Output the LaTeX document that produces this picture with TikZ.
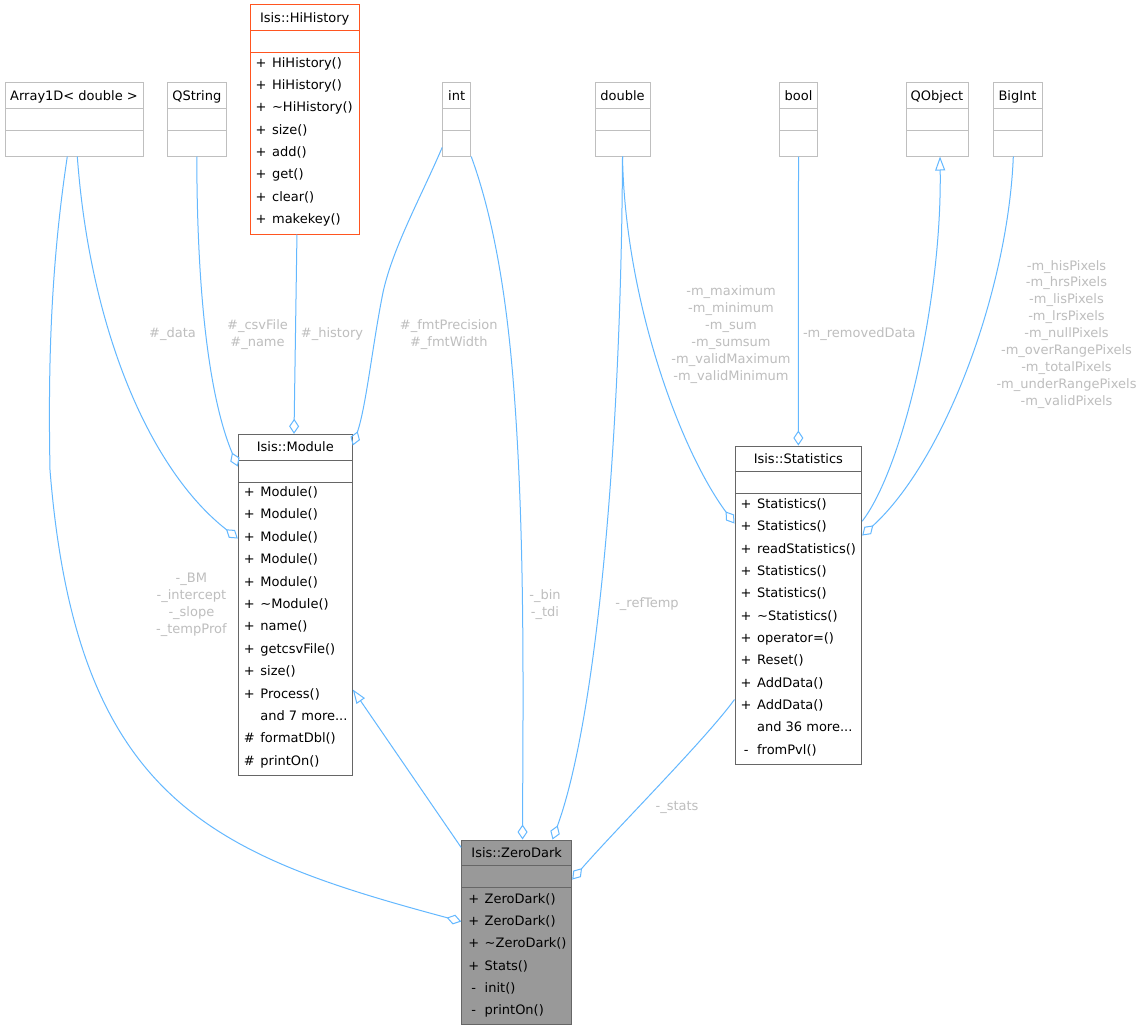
\documentclass[tikz,border=0pt]{standalone}
\usepackage{fontspec}
\setmainfont{DejaVu Sans}
\usetikzlibrary{arrows.meta,fit}
\definecolor{edgeblue}{HTML}{63B8FF}
\definecolor{lblgray}{HTML}{BEBEBE}
\definecolor{extgray}{HTML}{BFBFBF}
\definecolor{clsgray}{HTML}{666666}
\definecolor{curfill}{HTML}{999999}
\definecolor{trunc}{HTML}{FF5520}
\newcommand{\threedots}{...}
\tikzset{
  ext/.style={draw=extgray, line width=1pt, inner sep=0pt, fill=white},
  cls/.style={draw=clsgray, line width=1pt, inner sep=0pt, fill=white},
  cur/.style={draw=clsgray, line width=1pt, inner sep=0pt, fill=curfill},
  hist/.style={draw=trunc, line width=1pt, inner sep=0pt, fill=white},
  extsep/.style={draw=extgray, line width=1pt},
  clssep/.style={draw=clsgray, line width=1pt},
  histsep/.style={draw=trunc, line width=1pt},
  title/.style={font=\fontsize{13}{16}\selectfont, inner sep=0pt, anchor=mid},
  member/.style={font=\fontsize{13}{16}\selectfont, inner sep=0pt, anchor=mid west},
  lbl/.style={font=\fontsize{13}{16.9}\selectfont, text=lblgray, align=center, inner sep=0pt},
  agg/.style={draw=edgeblue, line width=1pt, -{Diamond[open, length=15pt, width=10pt]}},
  inh/.style={draw=edgeblue, line width=1pt, -{Triangle[open, length=14pt, width=10pt]}},
}
\begin{document}
\begin{tikzpicture}[x=1pt,y=-1pt]
\useasboundingbox[fill=white] (0,0) rectangle (1142,1030);

% ---------- external classes (top row) ----------
\node[ext, fit={(5,83)(143,156)}] (arr) {};
\draw[extsep] (5,108.3) -- (143,108.3) (5,130.7) -- (143,130.7);
\node[title] (arr-t) at (74,97.5) {Array1D< double >};

\node[ext, fit={(167.3,83)(226.3,156)}] (qs) {};
\draw[extsep] (167.3,108.3) -- (226.3,108.3) (167.3,130.7) -- (226.3,130.7);
\node[title] (qs-t) at (196.8,97.5) {QString};

\node[ext, fit={(442.7,83)(470.7,156)}] (int) {};
\draw[extsep] (442.7,108.3) -- (470.7,108.3) (442.7,130.7) -- (470.7,130.7);
\node[title] (int-t) at (456.7,97.5) {int};

\node[ext, fit={(595,83)(650,156)}] (dbl) {};
\draw[extsep] (595,108.3) -- (650,108.3) (595,130.7) -- (650,130.7);
\node[title] (dbl-t) at (622.5,97.5) {double};

\node[ext, fit={(779.5,83)(817.5,156)}] (bool) {};
\draw[extsep] (779.5,108.3) -- (817.5,108.3) (779.5,130.7) -- (817.5,130.7);
\node[title] (bool-t) at (798.5,97.5) {bool};

\node[ext, fit={(906,83)(968,156)}] (qobj) {};
\draw[extsep] (906,108.3) -- (968,108.3) (906,130.7) -- (968,130.7);
\node[title] (qobj-t) at (937,97.5) {QObject};

\node[ext, fit={(993,83)(1042,156)}] (bigint) {};
\draw[extsep] (993,108.3) -- (1042,108.3) (993,130.7) -- (1042,130.7);
\node[title] (bigint-t) at (1017.5,97.5) {BigInt};

% ---------- Isis::HiHistory ----------
\node[hist, fit={(250,5)(359.3,234)}] (hh) {};
\draw[histsep] (250,30.3) -- (359.3,30.3) (250,52.7) -- (359.3,52.7);
\node[title] (hh-t) at (304.7,19.5) {Isis::HiHistory};
\foreach \vis/\nm [count=\i] in {+/HiHistory(), +/HiHistory(), +/\textasciitilde HiHistory(), +/size(), +/add(), +/get(), +/clear(), +/makekey()}
  \node[member] (hh-m\i) at (255.4,{64.5+22.33*(\i-1)}) {\makebox[11pt][c]{\vis}\hspace{5.5pt}\nm};

% ---------- Isis::Module ----------
\node[cls, fit={(238.3,434.3)(352.3,775)}] (mod) {};
\draw[clssep] (238.3,460) -- (352.3,460) (238.3,482) -- (352.3,482);
\node[title] (mod-t) at (295.3,449) {Isis::Module};
\foreach \vis/\nm [count=\i] in {+/Module(), +/Module(), +/Module(), +/Module(), +/Module(), +/\textasciitilde Module(), +/name(), +/getcsvFile(), +/size(), +/Process(), {}/{and 7 more\threedots}, \#/formatDbl(), \#/printOn()}
  \node[member] (mod-m\i) at (243.7,{493.8+22.39*(\i-1)}) {\makebox[11pt][c]{\vis}\hspace{5.5pt}\nm};

% ---------- Isis::Statistics ----------
\node[cls, fit={(735,446)(861.7,764)}] (stat) {};
\draw[clssep] (735,471.3) -- (861.7,471.3) (735,493.3) -- (861.7,493.3);
\node[title] (stat-t) at (798.35,460.8) {Isis::Statistics};
\foreach \vis/\nm [count=\i] in {+/Statistics(), +/Statistics(), +/readStatistics(), +/Statistics(), +/Statistics(), +/\textasciitilde Statistics(), +/operator=(), +/Reset(), +/AddData(), +/AddData(), {}/{and 36 more\threedots}, -/fromPvl()}
  \node[member] (stat-m\i) at (740.4,{505.8+22.34*(\i-1)}) {\makebox[11pt][c]{\vis}\hspace{5.5pt}\nm};

% ---------- Isis::ZeroDark ----------
\node[cur, fit={(461.7,840)(571.7,1024)}] (zd) {};
\draw[clssep] (461.7,865) -- (571.7,865) (461.7,887.7) -- (571.7,887.7);
\node[title] (zd-t) at (516.7,854.3) {Isis::ZeroDark};
\foreach \vis/\nm [count=\i] in {+/ZeroDark(), +/ZeroDark(), +/\textasciitilde ZeroDark(), +/Stats(), -/init(), -/printOn()}
  \node[member] (zd-m\i) at (468,{900.5+22.34*(\i-1)}) {\makebox[11pt][c]{\vis}\hspace{5.5pt}\nm};

% ---------- connectors ----------
% Array1D -> ZeroDark
\draw[agg] ([xshift=-6.7pt]arr.south) .. controls (50.8,266) and (48,365) .. (50,470)
  .. controls (76.4,800) and (211.7,854.5) .. ([yshift=-82pt]zd.north west);
% Array1D -> Module
\draw[agg] ([xshift=3.3pt]arr.south) .. controls (90,330) and (150,470) .. ([yshift=-104.7pt]mod.north west);
% QString -> Module
\draw[agg] (qs.south) .. controls (197,300) and (210,400) .. ([yshift=-32.7pt]mod.north west);
% HiHistory -> Module
\draw[agg] ([xshift=-7.7pt]hh.south) -- ([xshift=-1.3pt]mod.north);
% int -> Module
\draw[agg] ([yshift=-27.9pt]int.west) .. controls (420.8,197.4) and (393.6,246) .. (383.3,291)
  .. controls (373,341) and (366.3,406) .. ([yshift=-11.7pt]mod.north east);
% int -> ZeroDark
\draw[agg] (int.south east) .. controls (496.6,226) and (507.7,312) .. (513.3,382)
  .. controls (525.3,532) and (523,700) .. ([xshift=5.8pt]zd.north);
% double -> ZeroDark
\draw[agg] (dbl.south) .. controls (621,450) and (596,720) .. ([xshift=35.8pt]zd.north);
% double -> Statistics
\draw[agg] (dbl.south) .. controls (625,300) and (680,450) .. ([yshift=-78pt]stat.north west);
% bool -> Statistics
\draw[agg] (bool.south) -- (stat.north);
% Statistics inherits QObject
\draw[inh] ([yshift=-75.7pt]stat.north east) .. controls (903,468) and (942,300) .. ([xshift=3pt]qobj.south);
% BigInt -> Statistics
\draw[agg] ([xshift=-4.2pt]bigint.south) .. controls (1008,290) and (945,460) .. ([yshift=-90pt]stat.north east);
% Statistics -> ZeroDark
\draw[agg] ([yshift=-254pt]stat.north west) .. controls (705,740) and (615,830) .. ([yshift=-40pt]zd.north east);
% ZeroDark inherits Module
\draw[inh] ([yshift=-8pt]zd.north west) -- ([yshift=-255.7pt]mod.north east);

% ---------- connector labels ----------
\node[lbl] (l-data) at (172.5,334.3) {\#\_data};
\node[lbl] (l-csv) at (257.5,334.2) {\#\_csvFile\\\#\_name};
\node[lbl] (l-hist) at (332,334.3) {\#\_history};
\node[lbl] (l-fmt) at (448.8,334.2) {\#\_fmtPrecision\\\#\_fmtWidth};
\node[lbl] (l-bm) at (191.4,604.7) {-\_BM\\-\_intercept\\-\_slope\\-\_tempProf};
\node[lbl] (l-bin) at (545,604.7) {-\_bin\\-\_tdi};
\node[lbl] (l-ref) at (647,604.3) {-\_refTemp};
\node[lbl] (l-stats) at (677,807.7) {-\_stats};
\node[lbl] (l-max) at (731,334.5) {-m\_maximum\\-m\_minimum\\-m\_sum\\-m\_sumsum\\-m\_validMaximum\\-m\_validMinimum};
\node[lbl] (l-rem) at (859.3,334.3) {-m\_removedData};
\node[lbl] (l-pix) at (1066.5,334.2) {-m\_hisPixels\\-m\_hrsPixels\\-m\_lisPixels\\-m\_lrsPixels\\-m\_nullPixels\\-m\_overRangePixels\\-m\_totalPixels\\-m\_underRangePixels\\-m\_validPixels};
\end{tikzpicture}
\end{document}
